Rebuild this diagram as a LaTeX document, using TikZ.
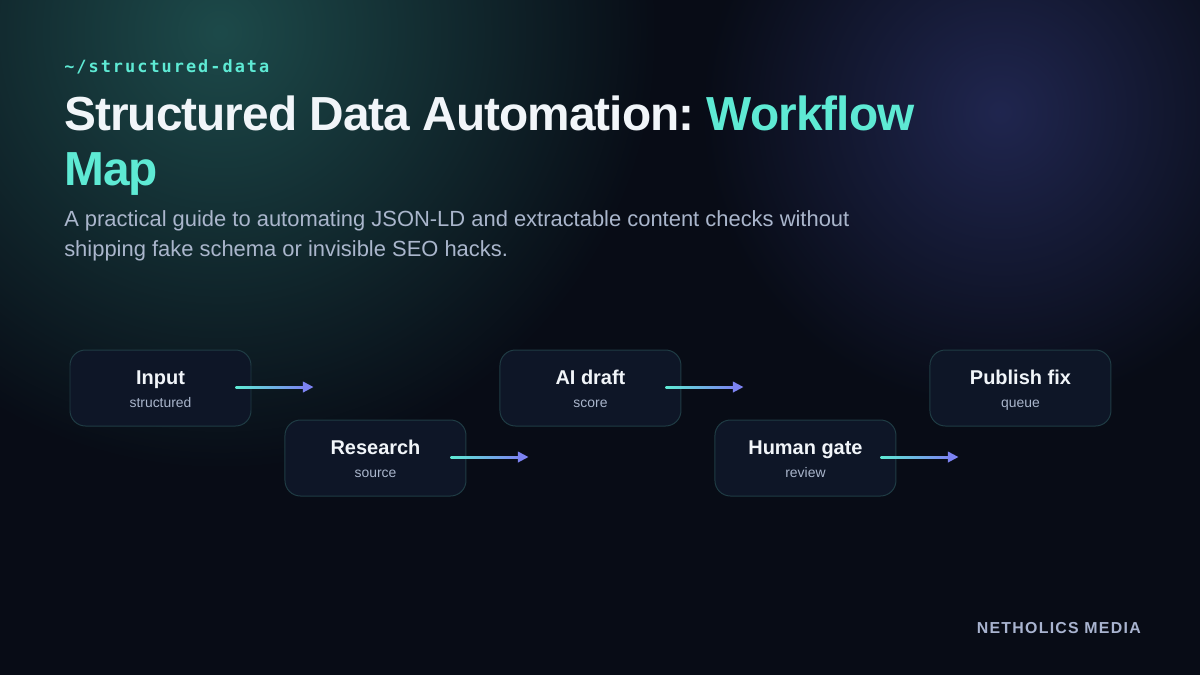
\documentclass[tikz,border=0pt]{standalone}
\usepackage{fontspec}
\setmainfont{Liberation Sans}
\newfontfamily\monofont[LetterSpace=12]{DejaVu Sans Mono}
\newfontfamily\titlefont[LetterSpace=-2]{Liberation Sans}
\newfontfamily\brandfont[LetterSpace=8]{Liberation Sans}
\usetikzlibrary{positioning, fadings, calc}
\definecolor{cBg}{HTML}{080C16}
\definecolor{cTealGlow}{HTML}{1D4A4A}
\definecolor{cBlueGlow}{HTML}{20264F}
\definecolor{cMint}{HTML}{5EEAD4}
\definecolor{cIndigo}{HTML}{7C83F2}
\definecolor{cText}{HTML}{F1F5F9}
\definecolor{cMuted}{HTML}{AAB6CC}
\definecolor{cBoxFill}{HTML}{0E1627}
\definecolor{cBoxLine}{HTML}{1F3C44}
\definecolor{cBrand}{HTML}{A9B4D0}
\tikzfading[name=glowfade, inner color=transparent!0, outer color=transparent!100]
\newcommand\stagesub[1]{{\fontsize{9.9}{17}\selectfont\mdseries\color{cMuted}#1}}
\tikzset{
  stage/.style={
    rectangle, rounded corners=11pt, draw=cBoxLine, line width=0.7pt,
    fill=cBoxFill, minimum width=4.525cm, minimum height=1.9cm,
    align=center, inner sep=0pt, text=cText,
    font=\bfseries\fontsize{14.2}{17}\selectfont,
    text height=28.4pt, text depth=0pt
  },
  flowtip/.style={fill=cIndigo},
  heading/.style={anchor=base west, align=left, inner sep=0pt},
}

\begin{document}
\frenchspacing
\begin{tikzpicture}

  % background and glows
  \useasboundingbox (0,0) rectangle (30,-16.875);
  \begin{scope}
    \clip (0,0) rectangle (30,-16.875);
    \fill[cBg] (0,0) rectangle (30,-16.875);
    \fill[cTealGlow, path fading=glowfade] (5.5,-0.8) circle (11);
    \fill[cBlueGlow, path fading=glowfade] (25,-2.8) circle (7.5);
  \end{scope}

  \node[heading, text=cMint, font=\monofont\bfseries\fontsize{12}{14}\selectfont] (path) at (1.6,-1.8) {\textasciitilde/structured-data};

  % anchor is the baseline of the last line
  \node[heading, text=cText, font=\titlefont\bfseries\fontsize{34}{39}\selectfont] (title) at (1.6,-4.625)
    {Structured Data Automation: \textcolor{cMint}{Workflow}\\\textcolor{cMint}{Map}};

  \node[heading, text=cMuted, font=\fontsize{15.6}{21.3}\selectfont] (sub) at (1.6,-6.4)
    {A practical guide to automating JSON-LD and extractable content checks without\\
     shipping fake schema or invisible SEO hacks.};

  % workflow stages
  \node[stage] (in) at (4.0125,-9.7) {Input\\\stagesub{structured}};
  \node[stage, right=0.825cm of in, yshift=-1.75cm] (res) {Research\\\stagesub{source}};
  \node[stage, right=0.825cm of res, yshift=1.75cm] (ai) {AI draft\\\stagesub{score}};
  \node[stage, right=0.825cm of ai, yshift=-1.75cm] (hum) {Human gate\\\stagesub{review}};
  \node[stage, right=0.825cm of hum, yshift=1.75cm] (pub) {Publish fix\\\stagesub{queue}};

  \foreach \n in {in,res,ai,hum} {
    \coordinate (\n-a) at ([xshift=-11.3pt,yshift=0.7pt]\n.east);
    \coordinate (\n-b) at ([xshift=44pt,yshift=0.7pt]\n.east);
    \shade[left color=cMint, right color=cIndigo] ([yshift=0.7pt]\n-a) rectangle ([xshift=-6pt,yshift=-0.7pt]\n-b);
    \fill[flowtip] (\n-b) -- ++(-7.5pt,4pt) -- ++(0,-8pt) -- cycle;
  }

  \node[anchor=base east, inner sep=0pt, text=cBrand, font=\brandfont\bfseries\fontsize{11.3}{13}\selectfont] (brand) at (28.525,-15.825) {NETHOLICS MEDIA};

\end{tikzpicture}
\end{document}
